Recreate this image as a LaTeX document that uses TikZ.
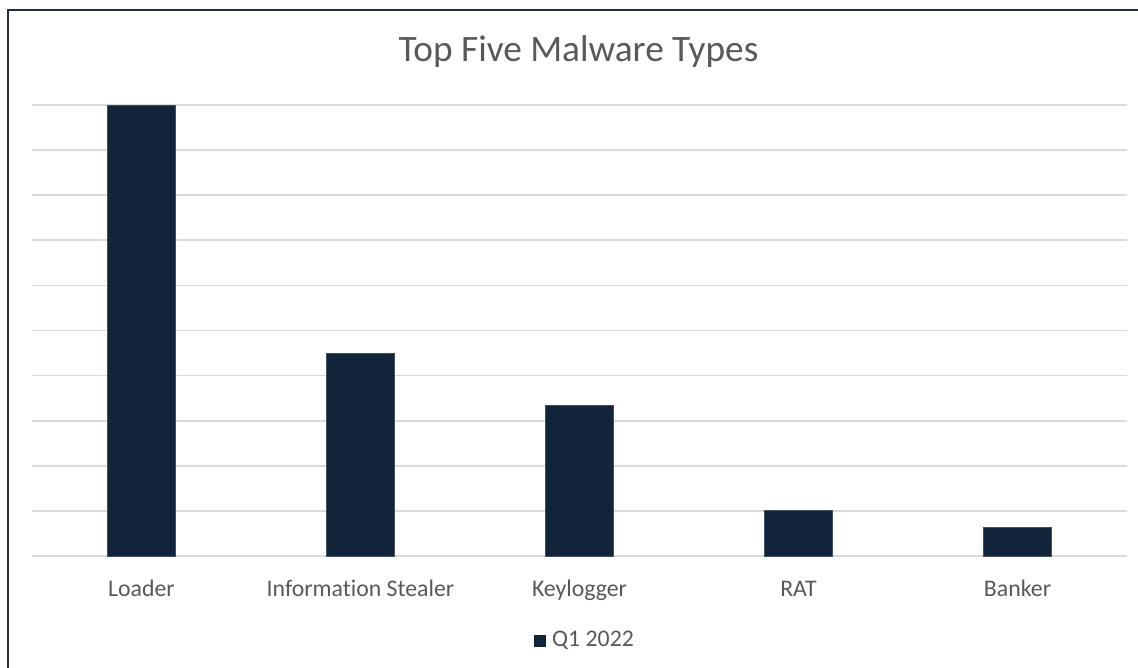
\documentclass[tikz,border=0pt]{standalone}
\usepackage{fontspec}
\setmainfont{Carlito}[Ligatures={NoCommon}]
\definecolor{barc}{HTML}{12243A}
\definecolor{txtc}{HTML}{595959}
\definecolor{gridc}{HTML}{D9D9D9}
\definecolor{framec}{HTML}{1F2D40}
\tikzset{
  catlabel/.style={text=txtc, font=\fontsize{23.8}{28}\selectfont, inner sep=0pt, anchor=base},
  barfill/.style={fill=barc, draw=barc!80!white, line width=0.6pt},
  gridline/.style={draw=gridc, line width=1.6pt}
}
\begin{document}
\begin{tikzpicture}[x=1pt,y=-1pt]
\useasboundingbox (0,0) rectangle (1138,668);
\fill[white] (0,0) rectangle (1138,668);
\begin{scope}
\clip (0,0) rectangle (1138,668);
\draw[framec, line width=1.6pt] (8,10) rectangle (1160,690);
\end{scope}
% title
\node[text=txtc, font=\fontsize{37.3}{40}\selectfont, inner sep=0pt, anchor=base] (title) at (578.5,62) {Top Five Malware Types};
% gridlines
\foreach \i in {0,...,10} {
  \draw[gridline] (32,{105+45.1*\i}) -- (1127,{105+45.1*\i});
}
% bars
\fill[barfill] (107.5,105) rectangle (175.5,556);
\fill[barfill] (326.5,353) rectangle (394.5,556);
\fill[barfill] (545.5,405) rectangle (613.5,556);
\fill[barfill] (764.5,510.5) rectangle (832.5,556);
\fill[barfill] (983.5,527) rectangle (1051.5,556);
% category labels
\node[catlabel] (l1) at (141.5,596) {Loader};
\node[catlabel] (l2) at (360.5,596) {Information Stealer};
\node[catlabel] (l3) at (579.5,596) {Keylogger};
\node[catlabel] (l4) at (798.5,596) {RAT};
\node[catlabel] (l5) at (1017.5,596) {Banker};
% legend
\node[fill=barc, minimum size=11.5pt, inner sep=0pt] (legkey) at (540,641) {};
\node[catlabel, anchor=base west] (legtext) at (552,646.5) {Q1 2022};
\end{tikzpicture}
\end{document}
